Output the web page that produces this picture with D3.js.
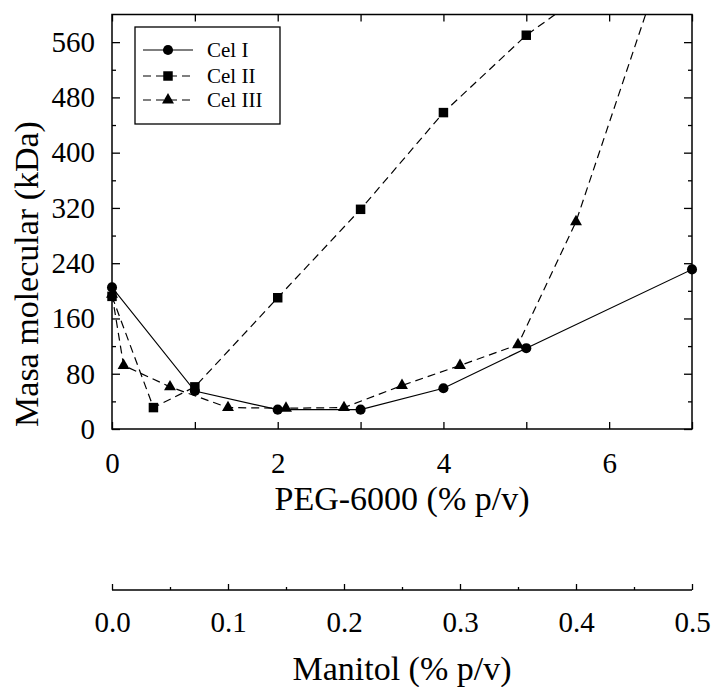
<!DOCTYPE html>
<html>
<head>
<meta charset="utf-8">
<script src="https://cdn.jsdelivr.net/npm/d3@7"></script>
<style>
  html, body { margin: 0; padding: 0; background: #fff; }
  svg { display: block; }
  svg text { font-family: "Liberation Serif", "Times New Roman", serif !important; }
</style>
</head>
<body>
<svg id="chart" width="712" height="687"></svg>
<script>
// ---- data ----
const seriesNames = ["Cel I", "Cel II", "Cel III"];
// Cel I and Cel II are plotted against PEG-6000 (% p/v)
const pegX_I = [0, 1, 2, 3, 4, 5, 7];
const celI = [205, 55, 28, 28, 59, 117, 231];
const pegX_II = [0, 0.5, 1, 2, 3, 4, 5, 6];
const celII = [192, 31, 61, 190, 318, 458, 570, 656];
// Cel III is plotted against Manitol (% p/v)
const manX_III = [0, 0.01, 0.05, 0.1, 0.15, 0.2, 0.25, 0.3, 0.35, 0.4, 0.5];
const celIII = [195, 92, 61, 31, 30, 31, 63, 92, 122, 300, 800];
// ticks
const pegTicks = [0, 1, 2, 3, 4, 5, 6, 7];
const pegLabels = ["0", "", "2", "", "4", "", "6", ""];
const yTicks = [0, 40, 80, 120, 160, 200, 240, 280, 320, 360, 400, 440, 480, 520, 560];
const manTicks = [0, 0.05, 0.1, 0.15, 0.2, 0.25, 0.3, 0.35, 0.4, 0.45, 0.5];
const xTitle = "PEG-6000 (% p/v)";
const x2Title = "Manitol (% p/v)";
const yTitle = "Masa molecular (kDa)";

// ---- layout ----
const L = 112, R = 692, T = 14.5, B = 429;
const svg = d3.select("#chart");
const xPeg = d3.scaleLinear().domain([0, 7]).range([L, R]);
const xMan = d3.scaleLinear().domain([0, 0.5]).range([L, R]);
const y = d3.scaleLinear().domain([0, 600]).range([B, T]);
const FS = 29;

svg.append("defs").append("clipPath").attr("id", "clip")
  .append("rect").attr("x", L).attr("y", T).attr("width", R - L).attr("height", B - T);

// frame
svg.append("rect").attr("x", L).attr("y", T).attr("width", R - L).attr("height", B - T)
  .attr("fill", "none").attr("stroke", "#000").attr("stroke-width", 1.5);

function styleAxis(g) {
  g.select(".domain").remove();
  g.attr("font-family", null);
  g.selectAll(".tick line").attr("stroke", "#000").attr("stroke-width", 1.3);
  g.selectAll(".tick text").attr("fill", "#000").attr("font-size", FS);
}

// bottom axis
svg.append("g").attr("transform", `translate(0,${B})`)
  .call(d3.axisBottom(xPeg).tickValues(pegTicks).tickSizeInner(-7).tickSizeOuter(0)
    .tickPadding(23).tickFormat((d, i) => pegLabels[i]))
  .call(styleAxis);
// top axis
svg.append("g").attr("transform", `translate(0,${T})`)
  .call(d3.axisTop(xPeg).tickValues(pegTicks).tickSizeInner(-7).tickSizeOuter(0).tickFormat(""))
  .call(styleAxis);
// left axis
const yl = svg.append("g").attr("transform", `translate(${L},0)`)
  .call(d3.axisLeft(y).tickValues(yTicks).tickSizeInner(-8).tickSizeOuter(0).tickPadding(17)
    .tickFormat(d => d % 80 === 0 ? d : ""))
  .call(styleAxis);
yl.selectAll(".tick line").attr("x2", d => d % 80 === 0 ? 8 : 4);
// right axis
const yr = svg.append("g").attr("transform", `translate(${R},0)`)
  .call(d3.axisRight(y).tickValues(yTicks).tickSizeInner(-8).tickSizeOuter(0).tickFormat(""))
  .call(styleAxis);
yr.selectAll(".tick line").attr("x2", d => d % 80 === 0 ? -8 : -4);

// manitol axis
const manY = 590;
svg.append("line").attr("x1", L).attr("x2", R).attr("y1", manY).attr("y2", manY)
  .attr("stroke", "#000").attr("stroke-width", 1.3);
const ma = svg.append("g").attr("transform", `translate(0,${manY})`)
  .call(d3.axisBottom(xMan).tickValues(manTicks).tickSizeInner(-6).tickSizeOuter(0).tickPadding(21)
    .tickFormat(d => (Math.round(d * 100) % 10 === 0) ? d3.format(".1f")(d) : ""))
  .call(styleAxis);
ma.selectAll(".tick line").attr("y2", d => (Math.round(d * 100) % 10 === 0) ? -6 : -3);

// axis titles
svg.append("text").attr("x", (L + R) / 2).attr("y", 510).attr("text-anchor", "middle")
  .attr("font-size", 34).text(xTitle);
svg.append("text").attr("x", (L + R) / 2).attr("y", 680).attr("text-anchor", "middle")
  .attr("font-size", 34).text(x2Title);
svg.append("text").attr("transform", `translate(38,274) rotate(-90)`)
  .attr("text-anchor", "middle").attr("font-size", 34).text(yTitle);

// series
const series = [
  { name: seriesNames[0], pts: pegX_I.map((x, i) => [xPeg(x), y(celI[i]), celI[i]]), dash: null, shape: d3.symbolCircle, size: 80 },
  { name: seriesNames[1], pts: pegX_II.map((x, i) => [xPeg(x), y(celII[i]), celII[i]]), dash: "8,5", shape: d3.symbolSquare, size: 90 },
  { name: seriesNames[2], pts: manX_III.map((x, i) => [xMan(x), y(celIII[i]), celIII[i]]), dash: "8,5", shape: d3.symbolTriangle, size: 62 }
];
const line = d3.line().x(d => d[0]).y(d => d[1]);
series.forEach(s => {
  svg.append("path").attr("d", line(s.pts)).attr("clip-path", "url(#clip)")
    .attr("fill", "none").attr("stroke", "#000").attr("stroke-width", 1.2)
    .attr("stroke-dasharray", s.dash);
});
series.forEach(s => {
  svg.append("g").selectAll("path").data(s.pts.filter(p => p[2] <= 600)).join("path")
    .attr("transform", d => `translate(${d[0]},${d[1]})`)
    .attr("d", d3.symbol().type(s.shape).size(s.size)).attr("fill", "#000");
});

// legend
const lg = svg.append("g");
lg.append("rect").attr("x", 135).attr("y", 27).attr("width", 145).attr("height", 97)
  .attr("fill", "#fff").attr("stroke", "#000").attr("stroke-width", 1.3);
const ly = [50, 76, 100];
series.forEach((s, i) => {
  lg.append("line").attr("x1", 143).attr("x2", 193).attr("y1", ly[i]).attr("y2", ly[i])
    .attr("stroke", "#000").attr("stroke-width", 1.2).attr("stroke-dasharray", s.dash);
  lg.append("path").attr("transform", `translate(168,${ly[i]})`)
    .attr("d", d3.symbol().type(s.shape).size(s.size)).attr("fill", "#000");
  lg.append("text").attr("x", 207).attr("y", ly[i]).attr("dy", "0.33em")
    .attr("font-size", 21).text(s.name);
});
</script>
</body>
</html>
